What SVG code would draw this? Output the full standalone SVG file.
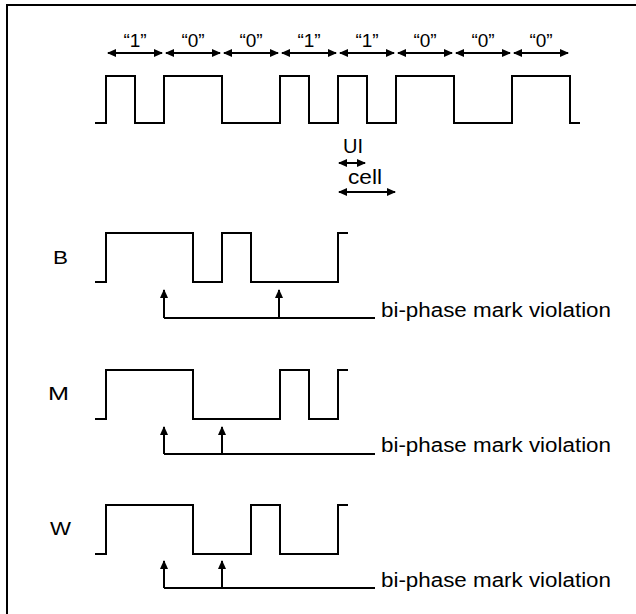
<svg xmlns="http://www.w3.org/2000/svg" width="636" height="614" viewBox="0 0 636 614">
<style>
.w{fill:none;stroke:#000;stroke-width:2}
.t{font-family:"Liberation Sans",Arial,sans-serif;fill:#000}
.q{font-size:19px;text-anchor:middle}
.v{font-size:20px}
.l{font-size:19px}
</style>
<defs>
<marker id="ah" markerUnits="userSpaceOnUse" markerWidth="9" markerHeight="8" refX="8" refY="4" orient="auto-start-reverse" viewBox="0 0 9 8">
<path d="M0,0 L9,4 L0,8 z" fill="#000"/>
</marker>
</defs>
<rect width="636" height="614" fill="#fff"/>
<path id="frame" class="w" stroke-width="2.2" d="M7,614 V5 H636"/>
<g id="data">
<text class="t q" x="135" y="47">“1”</text>
<text class="t q" x="193" y="47">“0”</text>
<text class="t q" x="251" y="47">“0”</text>
<text class="t q" x="309" y="47">“1”</text>
<text class="t q" x="367" y="47">“1”</text>
<text class="t q" x="425" y="47">“0”</text>
<text class="t q" x="483" y="47">“0”</text>
<text class="t q" x="541" y="47">“0”</text>
<path class="w" d="M95,123 H106 V76 H135 V123 H164 V76 H222 V123 H280 V76 H309 V123 H338 V76 H367 V123 H396 V76 H454 V123 H512 V76 H570 V123 H580"/>
</g>
<g id="timing">
<text class="t v" x="343" y="153" textLength="20" lengthAdjust="spacingAndGlyphs">UI</text>
<text class="t v" x="348" y="184" textLength="34" lengthAdjust="spacingAndGlyphs">cell</text>
</g>
<g id="B">
<text class="t l" x="53" y="264" textLength="15" lengthAdjust="spacingAndGlyphs">B</text>
<path class="w" d="M95,282 H106 V233 H193 V282 H222 V233 H251 V282 H338 V233 H348"/>
<text class="t v" x="381" y="317" textLength="230" lengthAdjust="spacingAndGlyphs">bi-phase mark violation</text>
</g>
<g id="M">
<text class="t l" x="48" y="400" textLength="21" lengthAdjust="spacingAndGlyphs">M</text>
<path class="w" d="M95,419 H106 V370 H193 V419 H280 V370 H309 V419 H338 V370 H348"/>
<text class="t v" x="381" y="452" textLength="230" lengthAdjust="spacingAndGlyphs">bi-phase mark violation</text>
</g>
<g id="W">
<text class="t l" x="50" y="535" textLength="21" lengthAdjust="spacingAndGlyphs">W</text>
<path class="w" d="M95,554 H106 V505 H193 V554 H251 V505 H280 V554 H338 V505 H348"/>
<text class="t v" x="381" y="587" textLength="230" lengthAdjust="spacingAndGlyphs">bi-phase mark violation</text>
</g>
<g id="connectors" class="w">
<g marker-start="url(#ah)" marker-end="url(#ah)">
<line x1="108" y1="53" x2="162" y2="53"/>
<line x1="166" y1="53" x2="220" y2="53"/>
<line x1="224" y1="53" x2="278" y2="53"/>
<line x1="282" y1="53" x2="336" y2="53"/>
<line x1="340" y1="53" x2="394" y2="53"/>
<line x1="398" y1="53" x2="452" y2="53"/>
<line x1="456" y1="53" x2="510" y2="53"/>
<line x1="514" y1="53" x2="568" y2="53"/>
<line x1="339" y1="163" x2="365" y2="163"/>
<line x1="339" y1="192" x2="395" y2="192"/>
</g>
<path d="M375,318 H164"/>
<line x1="164" y1="318" x2="164" y2="290" marker-end="url(#ah)"/>
<line x1="279" y1="318" x2="279" y2="290" marker-end="url(#ah)"/>
<path d="M375,454 H164"/>
<line x1="164" y1="454" x2="164" y2="427" marker-end="url(#ah)"/>
<line x1="222" y1="454" x2="222" y2="427" marker-end="url(#ah)"/>
<path d="M375,588 H164"/>
<line x1="164" y1="588" x2="164" y2="561" marker-end="url(#ah)"/>
<line x1="222" y1="588" x2="222" y2="561" marker-end="url(#ah)"/>
</g>
</svg>
